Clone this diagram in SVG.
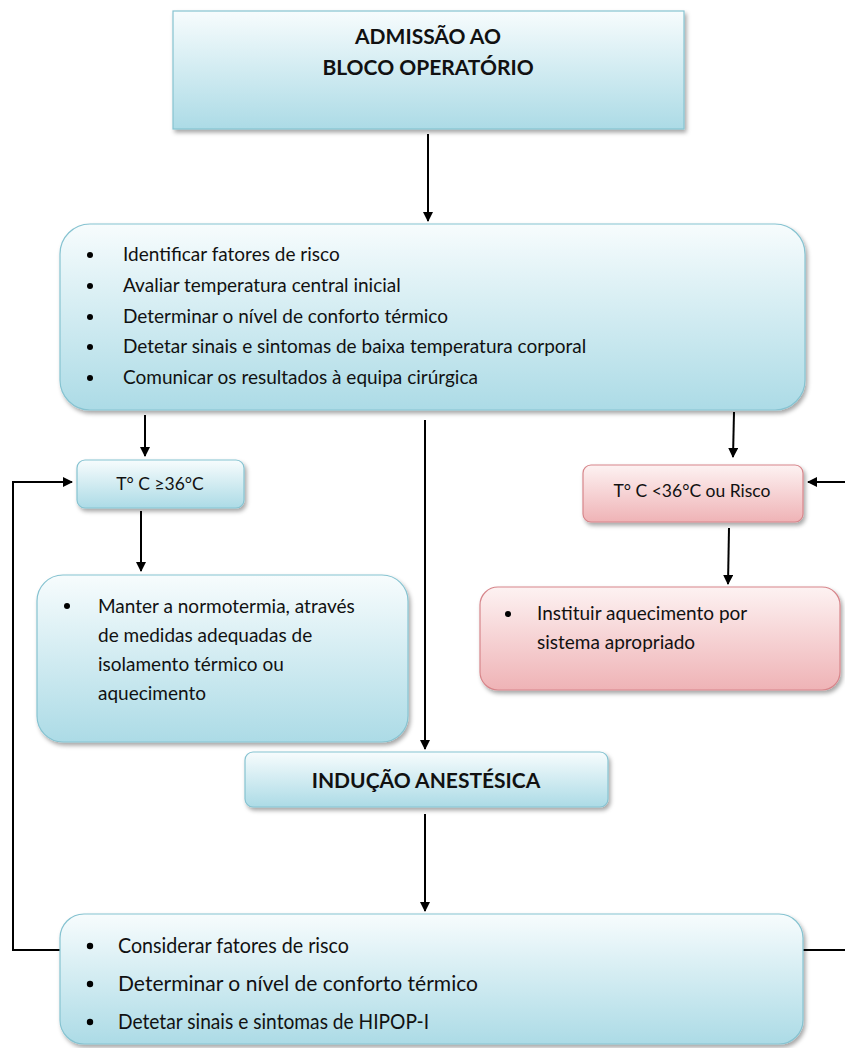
<svg xmlns="http://www.w3.org/2000/svg" width="845" height="1048" viewBox="0 0 845 1048">
<defs>
<linearGradient id="gb" x1="0" y1="0" x2="0" y2="1">
<stop offset="0" stop-color="#f7fcfd"/>
<stop offset="1" stop-color="#acdbe6"/>
</linearGradient>
<linearGradient id="gr" x1="0" y1="0" x2="0" y2="1">
<stop offset="0" stop-color="#fdf2f2"/>
<stop offset="1" stop-color="#efb3b6"/>
</linearGradient>
<filter id="sh" x="-5%" y="-10%" width="115%" height="130%">
<feDropShadow dx="2" dy="3" stdDeviation="2" flood-color="#000" flood-opacity="0.35"/>
</filter>
<marker id="ah" viewBox="0 0 10 10" refX="9" refY="5" markerWidth="10" markerHeight="10" markerUnits="userSpaceOnUse" orient="auto">
<path d="M0,0 L10,5 L0,10 z" fill="#000"/>
</marker>
</defs>
<style>
.b{fill:url(#gb);stroke:#86c3d1;stroke-width:1.2;filter:url(#sh)}
.r{fill:url(#gr);stroke:#d7868b;stroke-width:1.2;filter:url(#sh)}
text{font-family:Lato,"Open Sans","Liberation Sans",sans-serif;fill:#111}
.t{font-size:21px;font-weight:bold;text-anchor:middle}
.s{font-size:19px}
.m{font-size:17.5px;text-anchor:middle}
.l{font-size:22px}
.c{stroke:#000;stroke-width:2;fill:none}
.a{marker-end:url(#ah)}
</style>
<g id="connectors">
<line class="c a" x1="428" y1="134" x2="428" y2="221"/>
<line class="c a" x1="145" y1="415" x2="145" y2="456"/>
<line class="c a" x1="425" y1="420" x2="425" y2="749"/>
<line class="c a" x1="734" y1="412" x2="733" y2="457"/>
<polyline class="c a" points="845,482 808,482"/>
<line class="c a" x1="141" y1="511" x2="141" y2="571"/>
<line class="c a" x1="729" y1="528" x2="728" y2="584"/>
<line class="c a" x1="425" y1="814" x2="425" y2="911"/>
<polyline class="c a" points="60,950 13,950 13,482 72,482"/>
<line class="c" x1="803" y1="950" x2="845" y2="950"/>
</g>
<g id="admissao">
<rect class="b" x="173" y="11" width="511" height="118"/>
<text class="t" x="428" y="44">ADMISSÃO AO</text>
<text class="t" x="428" y="75">BLOCO OPERATÓRIO</text>
</g>
<g id="avaliacao">
<rect class="b" x="60" y="224" width="745" height="186" rx="30"/>
<circle cx="90" cy="255" r="3"/><text x="123" y="261" class="s">Identificar fatores de risco</text>
<circle cx="90" cy="286" r="3"/><text x="123" y="292" class="s">Avaliar temperatura central inicial</text>
<circle cx="90" cy="317" r="3"/><text x="123" y="323" class="s">Determinar o nível de conforto térmico</text>
<circle cx="90" cy="347" r="3"/><text x="123" y="353" class="s">Detetar sinais e sintomas de baixa temperatura corporal</text>
<circle cx="90" cy="378" r="3"/><text x="123" y="384" class="s">Comunicar os resultados à equipa cirúrgica</text>
</g>
<g id="normal">
<rect class="b" x="77" y="460" width="167" height="48" rx="8"/>
<text class="m" x="160" y="490">T° C ≥36°C</text>
</g>
<g id="risco">
<rect class="r" x="583" y="465" width="220" height="57" rx="8"/>
<text class="m" x="692" y="497">T° C &lt;36°C ou Risco</text>
</g>
<g id="manter">
<rect class="b" x="37" y="575" width="371" height="167" rx="26"/>
<circle cx="67" cy="606" r="3"/>
<text class="s" x="98" y="613">Manter a normotermia, através</text>
<text class="s" x="98" y="642">de medidas adequadas de</text>
<text class="s" x="98" y="671">isolamento térmico ou</text>
<text class="s" x="98" y="700">aquecimento</text>
</g>
<g id="instituir">
<rect class="r" x="480" y="587" width="360" height="103" rx="18"/>
<circle cx="508" cy="614" r="3"/>
<text class="s" x="537" y="620">Instituir aquecimento por</text>
<text class="s" x="537" y="649">sistema apropriado</text>
</g>
<g id="inducao">
<rect class="b" x="245" y="752" width="363" height="55" rx="8"/>
<text class="t" x="426" y="788">INDUÇÃO ANESTÉSICA</text>
</g>
<g id="intra">
<rect class="b" x="60" y="914" width="743" height="130" rx="24"/>
<circle cx="90" cy="946" r="3.2"/><text class="l" x="118" y="953" textLength="231" lengthAdjust="spacingAndGlyphs">Considerar fatores de risco</text>
<circle cx="90" cy="984" r="3.2"/><text class="l" x="118" y="991" textLength="360" lengthAdjust="spacingAndGlyphs">Determinar o nível de conforto térmico</text>
<circle cx="90" cy="1022" r="3.2"/><text class="l" x="118" y="1029" textLength="311" lengthAdjust="spacingAndGlyphs">Detetar sinais e sintomas de HIPOP-I</text>
</g>
</svg>
